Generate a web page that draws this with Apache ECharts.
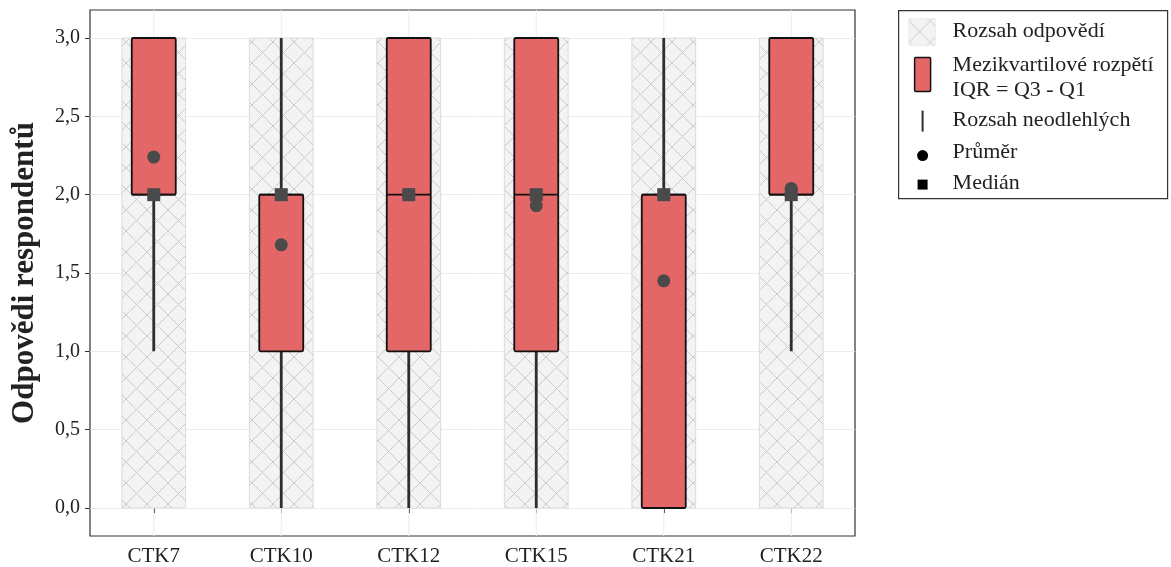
<!DOCTYPE html>
<html>
<head>
<meta charset="utf-8">
<script src="https://cdn.jsdelivr.net/npm/echarts@6/dist/echarts.min.js"></script>
<style>
  html, body { margin: 0; padding: 0; background: #fff; }
  #chart { width: 1171px; height: 567px; }
</style>
</head>
<body>
<div id="chart"></div>
<script>
// ---- data ----
const categories = ['CTK7', 'CTK10', 'CTK12', 'CTK15', 'CTK21', 'CTK22'];
const rangeMin   = [0, 0, 0, 0, 0, 0];
const rangeMax   = [3, 3, 3, 3, 3, 3];
const q1         = [2, 1, 1, 1, 0, 2];
const q3         = [3, 2, 3, 3, 2, 3];
const whiskerLow = [1, 0, 0, 0, 0, 1];
const whiskerHigh= [3, 3, 3, 3, 3, 3];
const medians    = [2, 2, 2, 2, 2, 2];
const means      = [2.24, 1.68, 2.0, 1.93, 1.45, 2.04];
const yTickLabels = ['0,0', '0,5', '1,0', '1,5', '2,0', '2,5', '3,0'];
const legendLabels = ['Rozsah odpovědí', 'Mezikvartilové rozpětí', 'IQR = Q3 - Q1', 'Rozsah neodlehlých', 'Průměr', 'Medián'];
const yTitle = 'Odpovědi respondentů';

// ---- style ----
const FONT = '"Liberation Serif", "DejaVu Serif", serif';
const BOX_COLOR = '#E46767';
const DARK = '#4a4a4a';
const LEG_FONT = '22px ' + FONT;

function makeHatch() {
  const s = 21;
  const c = document.createElement('canvas');
  c.width = s; c.height = s;
  const g = c.getContext('2d');
  g.fillStyle = '#f3f3f3';
  g.fillRect(0, 0, s, s);
  g.strokeStyle = '#cbcbcb';
  g.lineWidth = 1;
  g.beginPath();
  g.moveTo(0, 0); g.lineTo(s, s);
  g.moveTo(s, 0); g.lineTo(0, s);
  g.stroke();
  return { image: c, repeat: 'repeat' };
}
const hatch = makeHatch();

const idx = categories.map((_, i) => i);
const rangeData = idx.map(i => [i, rangeMin[i], rangeMax[i]]);
const whiskerData = idx.map(i => [i, whiskerLow[i], whiskerHigh[i]]);
const boxData = idx.map(i => [i, q1[i], q3[i], medians[i]]);
const meanData = idx.map(i => [i, means[i]]);
const medianData = idx.map(i => [i, medians[i]]);

const chart = echarts.init(document.getElementById('chart'), null, { renderer: 'canvas' });

const option = {
  animation: false,
  backgroundColor: '#ffffff',
  grid: [
    { left: 90, right: 316, top: 38, bottom: 59, show: false },
    { left: 90, right: 316, top: 10, bottom: 31, show: true, borderColor: '#333', borderWidth: 1.2, backgroundColor: 'transparent' }
  ],
  xAxis: [
    { type: 'category', gridIndex: 0, data: categories, show: false, boundaryGap: true },
    { type: 'category', gridIndex: 1, data: categories, boundaryGap: true,
      axisLine: { show: false },
      axisTick: { show: true, alignWithLabel: true, length: 5, lineStyle: { color: '#333', width: 1 } },
      axisLabel: { fontFamily: FONT, fontSize: 21, color: '#222', margin: 10 },
      splitLine: { show: false } }
  ],
  yAxis: [
    { type: 'value', gridIndex: 0, min: 0, max: 3, interval: 0.5,
      name: yTitle, nameLocation: 'middle', nameGap: 50,
      nameTextStyle: { fontFamily: FONT, fontSize: 31, fontWeight: 'bold', color: '#222' },
      axisLine: { show: false },
      axisTick: { show: true, length: 5, lineStyle: { color: '#333', width: 1 } },
      axisLabel: { fontFamily: FONT, fontSize: 20, color: '#222', margin: 10,
        formatter: (v) => yTickLabels[Math.round(v * 2)] },
      splitLine: { show: true, lineStyle: { color: '#ececec', width: 1 } } },
    { type: 'value', gridIndex: 1, min: -0.178, max: 3.178, show: false, splitLine: { show: false } }
  ],
  series: [
    { // vertical grid lines at categories
      type: 'custom', xAxisIndex: 1, yAxisIndex: 1, z: 1, silent: true,
      data: idx.map(i => [i]),
      renderItem: (params, api) => {
        const i = api.value(0);
        const a = api.coord([i, -0.178]);
        const b = api.coord([i, 3.178]);
        return { type: 'line', shape: { x1: a[0], y1: a[1], x2: b[0], y2: b[1] },
          style: { stroke: '#ececec', lineWidth: 1 } };
      }
    },
    { // response range
      type: 'custom', xAxisIndex: 0, yAxisIndex: 0, z: 2, name: legendLabels[0],
      data: rangeData, encode: { x: 0, y: [1, 2] },
      renderItem: (params, api) => {
        const i = api.value(0);
        const lo = api.coord([i, api.value(1)]);
        const hi = api.coord([i, api.value(2)]);
        const bw = api.size([1, 0])[0] * 0.5;
        return { type: 'rect', shape: { x: lo[0] - bw / 2, y: hi[1], width: bw, height: lo[1] - hi[1] },
          style: { fill: hatch, stroke: '#dcdcdc', lineWidth: 1 } };
      }
    },
    { // whiskers
      type: 'custom', xAxisIndex: 0, yAxisIndex: 0, z: 3, name: legendLabels[3],
      data: whiskerData, encode: { x: 0, y: [1, 2] },
      renderItem: (params, api) => {
        const i = api.value(0);
        const lo = api.coord([i, api.value(1)]);
        const hi = api.coord([i, api.value(2)]);
        return { type: 'line', shape: { x1: lo[0], y1: lo[1], x2: hi[0], y2: hi[1] },
          style: { stroke: '#2e2e2e', lineWidth: 2.8 } };
      }
    },
    { // IQR boxes
      type: 'custom', xAxisIndex: 0, yAxisIndex: 0, z: 4, name: legendLabels[1],
      data: boxData, encode: { x: 0, y: [1, 2] },
      renderItem: (params, api) => {
        const i = api.value(0);
        const lo = api.coord([i, api.value(1)]);
        const hi = api.coord([i, api.value(2)]);
        const md = api.coord([i, api.value(3)]);
        const bw = api.size([1, 0])[0] * 0.345;
        return { type: 'group', children: [
          { type: 'rect', shape: { x: lo[0] - bw / 2, y: hi[1], width: bw, height: lo[1] - hi[1], r: 1.5 },
            style: { fill: BOX_COLOR, stroke: '#111', lineWidth: 1.8 } },
          { type: 'line', shape: { x1: lo[0] - bw / 2, y1: md[1], x2: lo[0] + bw / 2, y2: md[1] },
            style: { stroke: '#111', lineWidth: 1.8 } }
        ] };
      }
    },
    { // means
      type: 'scatter', xAxisIndex: 0, yAxisIndex: 0, z: 5, name: legendLabels[4],
      data: meanData, symbol: 'circle', symbolSize: 13,
      itemStyle: { color: DARK, opacity: 1 }
    },
    { // medians
      type: 'scatter', xAxisIndex: 0, yAxisIndex: 0, z: 6, name: legendLabels[5],
      data: medianData, symbol: 'rect', symbolSize: 13,
      itemStyle: { color: DARK, opacity: 1 }
    }
  ],
  graphic: [
    { type: 'group', left: 898, top: 10, children: [
      { type: 'rect', shape: { x: 0, y: 0, width: 269, height: 188 },
        style: { fill: '#fff', stroke: '#333', lineWidth: 1.2 } },
      { type: 'rect', shape: { x: 10, y: 8, width: 27, height: 27 },
        style: { fill: hatch, stroke: '#eeeeee', lineWidth: 1 } },
      { type: 'text', x: 54, y: 21, style: { text: legendLabels[0], font: LEG_FONT, fill: '#222', verticalAlign: 'middle' } },
      { type: 'rect', shape: { x: 16, y: 47, width: 16, height: 34, r: 1 },
        style: { fill: BOX_COLOR, stroke: '#111', lineWidth: 1.5 } },
      { type: 'text', x: 54, y: 55, style: { text: legendLabels[1], font: LEG_FONT, fill: '#222', verticalAlign: 'middle' } },
      { type: 'text', x: 54, y: 80, style: { text: legendLabels[2], font: LEG_FONT, fill: '#222', verticalAlign: 'middle' } },
      { type: 'line', shape: { x1: 24, y1: 100, x2: 24, y2: 121 },
        style: { stroke: '#2e2e2e', lineWidth: 2 } },
      { type: 'text', x: 54, y: 110, style: { text: legendLabels[3], font: LEG_FONT, fill: '#222', verticalAlign: 'middle' } },
      { type: 'circle', shape: { cx: 24, cy: 145, r: 5.5 }, style: { fill: '#000' } },
      { type: 'text', x: 54, y: 142, style: { text: legendLabels[4], font: LEG_FONT, fill: '#222', verticalAlign: 'middle' } },
      { type: 'rect', shape: { x: 19, y: 169, width: 10, height: 10 }, style: { fill: '#000' } },
      { type: 'text', x: 54, y: 173, style: { text: legendLabels[5], font: LEG_FONT, fill: '#222', verticalAlign: 'middle' } }
    ] }
  ]
};
chart.setOption(option);
</script>
</body>
</html>
